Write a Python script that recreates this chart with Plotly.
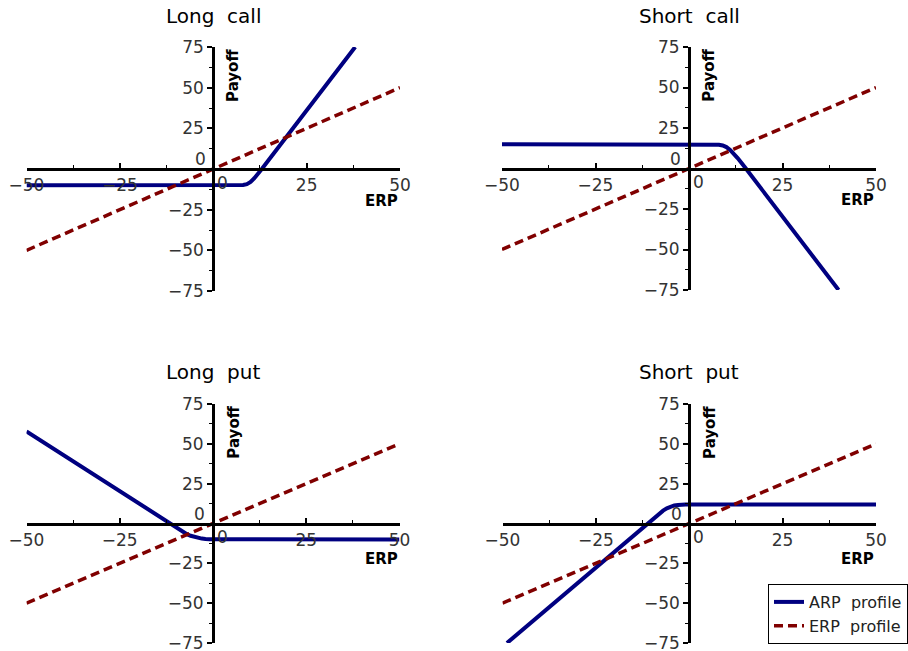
import plotly.graph_objects as go

W, H = 908, 651

titles = ["Long  call", "Short  call", "Long  put", "Short  put"]

# ERP profile (same in every panel)
erp_x = [-50, 50]
erp_y = [-50, 50]

# ARP profiles
lc_x = [-50, 7, 8, 9, 10, 11, 12, 13, 38]
lc_y = [-10, -9.95, -9.82, -9.32, -8.0, -5.7, -2.93, 0.02, 75]

sc_x = [-50, 6, 7, 8, 9, 10, 11, 12, 13, 14, 15, 40]
sc_y = [15, 14.96, 14.88, 14.68, 14.21, 13.21, 11.49, 9.14, 6.42, 3.53, 0.58, -75]

lp_x = [-50, -12, -11, -10, -9, -8, -7, -6, -5, -4, -3, -2, -1, 50]
lp_y = [57.8, 0.19, -1.28, -2.73, -4.13, -5.45, -6.66, -7.69, -8.5, -9.09, -9.47, -9.7, -9.83, -10]

sp_x = [-48.8, -11, -10, -9, -8, -7, -6, -5, -4, -3, -2, -1, 50]
sp_y = [-75, 0.58, 2.55, 4.49, 6.36, 8.08, 9.54, 10.62, 11.3, 11.67, 11.85, 11.93, 12]

arp = [(lc_x, lc_y), (sc_x, sc_y), (lp_x, lp_y), (sp_x, sp_y)]

x_ticks = [-50, -25, 0, 25, 50]
x_text = ["\u221250", "\u221225", "", "25", "50"]
y_ticks = [-75, -50, -25, 0, 25, 50, 75]
y_text = ["\u221275", "\u221250", "\u221225", "", "25", "50", "75"]

# panel pixel boxes: x0, x1, ytop, ybottom
boxes = [(26.5, 400, 47, 291), (502, 876, 47, 290),
         (26.5, 399.5, 404, 643), (502.5, 876, 404, 643)]
title_y = [16, 16, 372, 372]
erp_label_y = [-19.5, -19.5, -22, -22]

NAVY = "#000080"
DRED = "#800000"
tickfont = dict(family="DejaVu Sans", size=17, color="#333333")

fig = go.Figure()
layout = {}
annotations = []
for i, ((ax, ay), box) in enumerate(zip(arp, boxes)):
    n = "" if i == 0 else str(i + 1)
    x0, x1, yt, yb = box
    dx = [x0 / W, x1 / W]
    dy = [1 - yb / H, 1 - yt / H]
    fig.add_trace(go.Scatter(x=ax, y=ay, mode="lines", name="ARP  profile",
                             line=dict(color=NAVY, width=4),
                             xaxis="x" + n, yaxis="y" + n, showlegend=(i == 0)))
    fig.add_trace(go.Scatter(x=erp_x, y=erp_y, mode="lines", name="ERP  profile",
                             line=dict(color=DRED, width=3.5, dash="9px,5px"),
                             xaxis="x" + n, yaxis="y" + n, showlegend=(i == 0)))
    common = dict(showgrid=False, zeroline=False, showline=True, linewidth=3,
                  linecolor="black", anchor="free", tickmode="array",
                  tickfont=tickfont, tickcolor="black", tickwidth=1.5, ticklen=5,
                  ticklabeloverflow="allow")
    layout["xaxis" + n] = dict(common, domain=dx, range=[-50, 50],
                               position=sum(dy) / 2, tickvals=x_ticks, ticktext=x_text,
                               ticks="inside",
                               minor=dict(tickmode="linear", tick0=0, dtick=12.5,
                                          ticks="inside", ticklen=3, tickwidth=1,
                                          tickcolor="black"))
    layout["yaxis" + n] = dict(common, domain=dy, range=[-75, 75],
                               position=sum(dx) / 2, tickvals=y_ticks, ticktext=y_text,
                               ticks="outside",
                               minor=dict(tickmode="linear", tick0=0, dtick=12.5,
                                          ticks="outside", ticklen=3, tickwidth=1,
                                          tickcolor="black"))
    xr, yr = "x" + n, "y" + n
    annotations += [
        dict(x=0, y=1 - title_y[i] / H, xref=xr, yref="paper", text=titles[i],
             showarrow=False, yanchor="middle",
             font=dict(family="DejaVu Sans", size=20, color="black")),
        dict(x=2.6, y=-8.5, xref=xr, yref=yr, text="0", showarrow=False,
             font=tickfont),
        dict(x=-1.5, y=6, xref=xr, yref=yr, text="0", showarrow=False,
             xanchor="right", font=tickfont),
        dict(x=5.4, y=75, xref=xr, yref=yr, text="<b>Payoff</b>", showarrow=False,
             textangle=-90, yanchor="top",
             font=dict(family="DejaVu Sans", size=15, color="black")),
        dict(x=50, y=erp_label_y[i], xref=xr, yref=yr, text="<b>ERP</b>", showarrow=False,
             xanchor="right", font=dict(family="DejaVu Sans", size=15, color="black")),
    ]

fig.update_layout(
    width=W, height=H,
    margin=dict(l=0, r=0, t=0, b=0, autoexpand=False),
    plot_bgcolor="white", paper_bgcolor="white",
    annotations=annotations,
    legend=dict(x=768 / W, y=1 - 584 / H, xanchor="left", yanchor="top",
                bordercolor="black", borderwidth=1, bgcolor="white",
                font=dict(family="DejaVu Sans", size=16, color="#222222"),
                tracegroupgap=0, itemwidth=30),
    **layout,
)
fig.write_html("out.html", config={"displayModeBar": False},
               post_script="document.body.style.margin='0';document.body.style.overflow='hidden';")
